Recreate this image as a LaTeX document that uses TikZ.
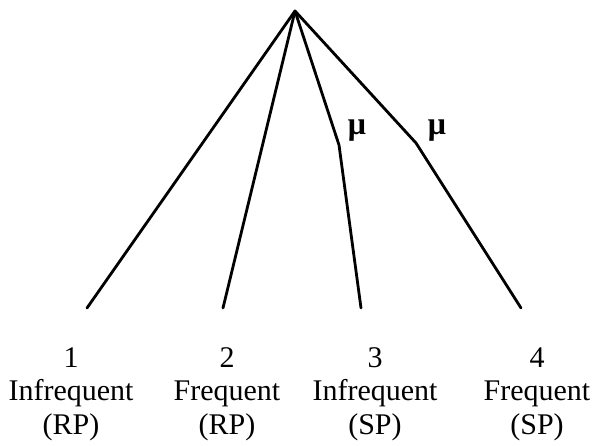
\documentclass[tikz,border=0pt]{standalone}
\usepackage{fontspec}
\setmainfont{Liberation Serif}
\begin{document}
\begin{tikzpicture}[x=1pt,y=-1pt,
  branch/.style={line width=2.8pt,line join=round,line cap=round},
  lbl/.style={font=\fontsize{30}{34}\selectfont,anchor=base,inner sep=0pt},
  mulbl/.style={font=\fontsize{32}{36}\selectfont\bfseries,inner sep=0pt}]
\useasboundingbox (0,0) rectangle (592,445);
\coordinate (root) at (295,11);
\coordinate (b3) at (339,145);
\coordinate (b4) at (416,143);
\coordinate (e1) at (87,308);
\coordinate (e2) at (223,308);
\coordinate (e3) at (361,308);
\coordinate (e4) at (521,308);
\draw[branch] (root) -- (e1);
\draw[branch] (root) -- (e2);
\draw[branch] (root) -- (b3) -- (e3);
\draw[branch] (root) -- (b4) -- (e4);
\node[mulbl] (mu3) at (357,131) {μ};
\node[mulbl] (mu4) at (437,131) {μ};
\node[lbl] (n1) at (71,367) {1};
\node[lbl] (w1) at (71,400) {Infrequent};
\node[lbl] (p1) at (71,434) {(RP)};
\node[lbl] (n2) at (227,367) {2};
\node[lbl] (w2) at (227,400) {Frequent};
\node[lbl] (p2) at (227,434) {(RP)};
\node[lbl] (n3) at (375,367) {3};
\node[lbl] (w3) at (375,400) {Infrequent};
\node[lbl] (p3) at (375,434) {(SP)};
\node[lbl] (n4) at (537,367) {4};
\node[lbl] (w4) at (537,400) {Frequent};
\node[lbl] (p4) at (537,434) {(SP)};
\end{tikzpicture}
\end{document}
